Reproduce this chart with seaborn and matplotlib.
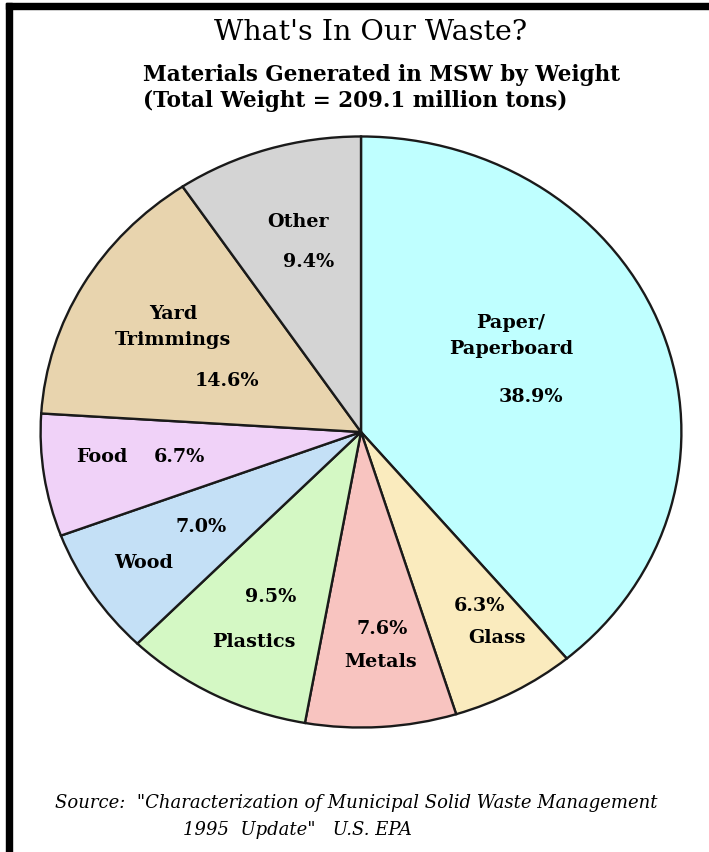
import matplotlib
matplotlib.use("Agg")
import matplotlib.pyplot as plt
import seaborn as sns
from matplotlib.patches import Rectangle

# data
materials = ["Paper/\nPaperboard", "Glass", "Metals", "Plastics",
             "Wood", "Food", "Yard\nTrimmings", "Other"]
shares = [38.9, 6.3, 7.6, 9.5, 7.0, 6.7, 14.6, 9.4]
slice_colors = ["#BFFFFF", "#FAEBBE", "#F8C4C0", "#D4F8C4",
                "#C4E0F6", "#F0D2F8", "#E8D4AE", "#D4D4D4"]

W, H = 709, 853
CX, CY, RX, RY = 361, 433, 322, 297


def fx(px):
    return px / W


def fy(py):
    return 1 - py / H


sns.set_theme(style="white")
plt.rcParams["font.family"] = ["DejaVu Serif", "DejaVu Sans"]
plt.rcParams["text.color"] = "black"

fig = plt.figure(figsize=(W / 100, H / 100), dpi=100)
fig.patch.set_facecolor("white")

ax = fig.add_axes([fx(CX - RX), fy(CY + RY), 2 * RX / W, 2 * RY / H])
ax.pie(shares, colors=sns.color_palette(slice_colors), startangle=90,
       counterclock=False, radius=1,
       wedgeprops=dict(edgecolor="#1a1a1a", linewidth=1.7))
ax.set_aspect("auto")
ax.set_xlim(-1.005, 1.005)
ax.set_ylim(-1.005, 1.005)
ax.axis("off")

# label placement (pixel positions of name and percent text)
name_pos = [(511, 336), (497, 638), (381, 662), (254, 642),
            (144, 563), (102, 457), (173, 327), (298, 222)]
pct_pos = [(531, 397), (480, 606), (382, 629), (271, 597),
           (201, 527), (179, 457), (227, 381), (309, 262)]

for name, val, (nx, ny), (px, py) in zip(materials, shares, name_pos, pct_pos):
    fig.text(fx(nx), fy(ny), name, ha="center", va="center",
             fontsize=13.8, fontweight="bold", linespacing=1.55)
    fig.text(fx(px), fy(py), f"{val:.1f}%", ha="center", va="center",
             fontsize=13.8, fontweight="bold")

# titles
fig.text(fx(371), fy(33), "What's In Our Waste?", ha="center", va="center",
         fontsize=20.5)
fig.text(fx(143), fy(75), "Materials Generated in MSW by Weight",
         ha="left", va="center", fontsize=15.5, fontweight="bold")
fig.text(fx(143), fy(101), "(Total Weight = 209.1 million tons)",
         ha="left", va="center", fontsize=15.5, fontweight="bold")

# source
fig.text(fx(55), fy(803),
         "Source:  \"Characterization of Municipal Solid Waste Management",
         ha="left", va="center", fontsize=13, style="italic")
fig.text(fx(183), fy(830), "1995  Update\"   U.S. EPA",
         ha="left", va="center", fontsize=13, style="italic")

# frame lines on left and top
fig.add_artist(Rectangle((fx(6), 0), 6 / W, fy(4), transform=fig.transFigure,
                         color="black", zorder=10))
fig.add_artist(Rectangle((fx(6), fy(10)), 1, 6 / H, transform=fig.transFigure,
                         color="black", zorder=10))

fig.savefig("out.png", dpi=100, facecolor="white")
